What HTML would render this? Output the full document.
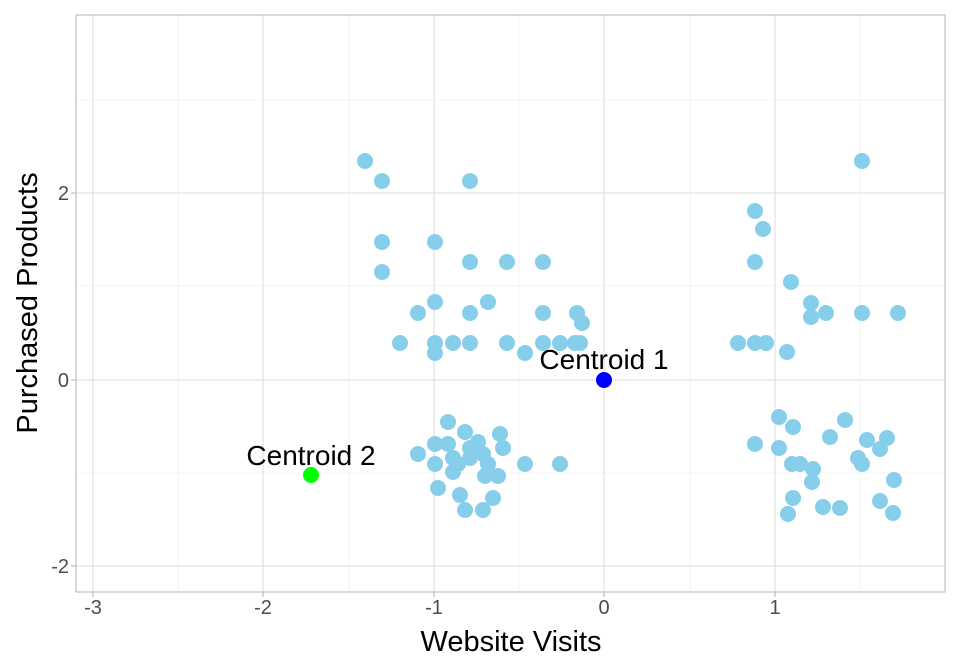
<!DOCTYPE html>
<html><head><meta charset="utf-8"><style>body{margin:0;background:#fff}svg{display:block;font-family:"Liberation Sans",sans-serif}</style></head><body>
<svg width="960" height="672" viewBox="0 0 960 672">
<rect x="0" y="0" width="960" height="672" fill="#fff"/>
<g stroke="#ebebeb" stroke-width="0.6">
<line x1="76" x2="945" y1="100" y2="100"/><line x1="76" x2="945" y1="286" y2="286"/><line x1="76" x2="945" y1="473" y2="473"/>
<line y1="15" y2="592" x1="178" x2="178"/><line y1="15" y2="592" x1="349" x2="349"/><line y1="15" y2="592" x1="519" x2="519"/><line y1="15" y2="592" x1="690" x2="690"/><line y1="15" y2="592" x1="860" x2="860"/>
</g>
<g stroke="#dedede" stroke-width="1.1">
<line x1="76" x2="945" y1="193" y2="193"/><line x1="76" x2="945" y1="380" y2="380"/><line x1="76" x2="945" y1="566" y2="566"/>
<line y1="15" y2="592" x1="93" x2="93"/><line y1="15" y2="592" x1="263" x2="263"/><line y1="15" y2="592" x1="434" x2="434"/><line y1="15" y2="592" x1="604" x2="604"/><line y1="15" y2="592" x1="775" x2="775"/>
</g>
<rect x="76" y="15" width="869" height="577" fill="none" stroke="#b3b3b3" stroke-width="1"/>
<g fill="#87ceeb" id="pts">
</g>
<g font-size="20" fill="#4d4d4d" text-anchor="middle">
<text x="93" y="614">-3</text><text x="263" y="614">-2</text><text x="434" y="614">-1</text><text x="604" y="614">0</text><text x="775" y="614">1</text>
</g>
<g font-size="20" fill="#4d4d4d" text-anchor="end">
<text x="69" y="200">2</text><text x="69" y="387">0</text><text x="69" y="573">-2</text>
</g>
<g stroke="#b3b3b3"><line x1="93" x2="93" y1="592" y2="597"/><line x1="263" x2="263" y1="592" y2="597"/><line x1="434" x2="434" y1="592" y2="597"/><line x1="604" x2="604" y1="592" y2="597"/><line x1="775" x2="775" y1="592" y2="597"/>
<line x1="71" x2="76" y1="193" y2="193"/><line x1="71" x2="76" y1="380" y2="380"/><line x1="71" x2="76" y1="566" y2="566"/></g>
<text x="511" y="651" font-size="29" text-anchor="middle" fill="#000">Website Visits</text>
<text transform="translate(37,303) rotate(-90)" font-size="29" text-anchor="middle" fill="#000">Purchased Products</text>
<circle cx="604" cy="380" r="8" fill="#0000ff"/>
<circle cx="311" cy="475" r="8" fill="#00ff00"/>
<text x="604" y="369" font-size="28" text-anchor="middle" fill="#000">Centroid 1</text>
<text x="311" y="465" font-size="28" text-anchor="middle" fill="#000">Centroid 2</text>
</svg>
<script>
var p=[[365,161],[382,181],[470,181],[382,242],[435,242],[382,272],[470,262],[507,262],[543,262],[418,313],[435,302],[488,302],[470,313],[543,313],[577,313],[582,323],[400,343],[435,343],[435,353],[453,343],[470,343],[507,343],[525,353],[543,343],[560,343],[575,343],[580,343],
[448,422],[435,444],[448,444],[465,432],[478,442],[500,434],[418,454],[435,464],[453,458],[458,464],[470,448],[470,458],[483,454],[488,464],[503,448],[525,464],[560,464],[453,472],[485,476],[498,476],[438,488],[460,495],[493,498],[465,510],[483,510],
[755,211],[763,229],[755,262],[791,282],[811,303],[811,317],[826,313],[862,313],[898,313],[738,343],[755,343],[766,343],[787,352],[862,161],
[779,417],[845,420],[793,427],[830,437],[867,440],[887,438],[880,449],[755,444],[779,448],[858,458],[862,464],[792,464],[800,464],[813,469],[812,482],[894,480],[793,498],[880,501],[823,507],[840,508],[788,514],[893,513]];
var g=document.getElementById('pts'),s='';
p.forEach(function(a){s+='<circle cx="'+a[0]+'" cy="'+a[1]+'" r="8"/>';});
g.innerHTML=s;
</script>
</body></html>
